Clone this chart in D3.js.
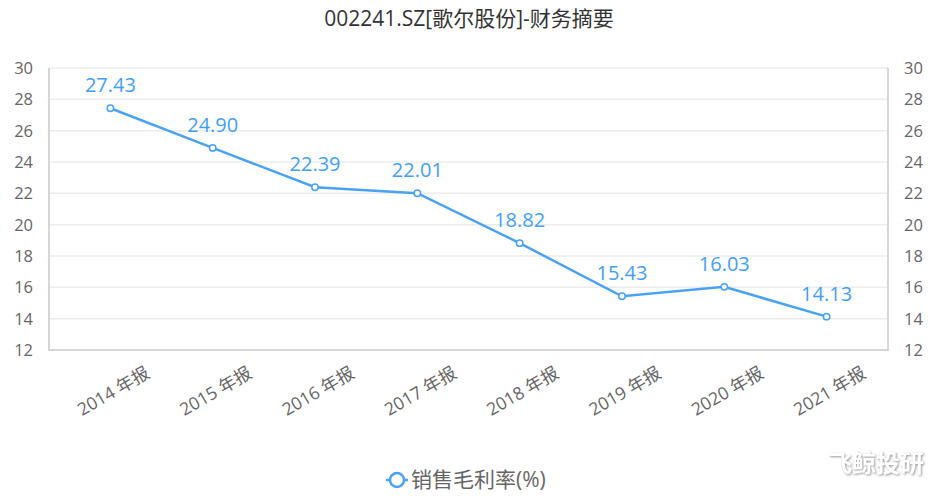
<!DOCTYPE html>
<html lang="zh">
<head>
<meta charset="UTF-8" />
<script src="https://d3js.org/d3.v7.min.js"></script>
<style>
  body { margin: 0; background: #fff; }
  text { font-family: "Open Sans", "Noto Sans CJK SC", sans-serif; }
</style>
</head>
<body>
<svg id="chart" width="941" height="496"></svg>
<script>
const categories = ["2014 年报", "2015 年报", "2016 年报", "2017 年报", "2018 年报", "2019 年报", "2020 年报", "2021 年报"];
const grossMargin = [27.43, 24.90, 22.39, 22.01, 18.82, 15.43, 16.03, 14.13];
const yTicks = [12, 14, 16, 18, 20, 22, 24, 26, 28, 30];

const svg = d3.select("#chart");
const plotLeft = 49, plotRight = 888, plotTop = 68, plotBottom = 350;
const lineColor = "#4aa2f7";

const x = d3.scalePoint().domain(categories).range([plotLeft, plotRight]).padding(0.6);
const y = d3.scaleLinear().domain([12, 30]).range([plotBottom, plotTop]);

// title
svg.append("text")
  .attr("x", 469).attr("y", 26)
  .attr("text-anchor", "middle")
  .attr("font-size", 21).attr("fill", "#333")
  .text("002241.SZ[歌尔股份]-财务摘要");

// grid
svg.append("g").selectAll("line")
  .data(yTicks)
  .join("line")
  .attr("x1", plotLeft).attr("x2", plotRight)
  .attr("y1", d => y(d)).attr("y2", d => y(d))
  .attr("stroke", "#ececec").attr("stroke-width", 1.5);

// frame
svg.append("line").attr("x1", plotLeft).attr("x2", plotLeft).attr("y1", plotTop).attr("y2", plotBottom)
  .attr("stroke", "#d6d6d6").attr("stroke-width", 2);
svg.append("line").attr("x1", plotRight).attr("x2", plotRight).attr("y1", plotTop).attr("y2", plotBottom)
  .attr("stroke", "#d6d6d6").attr("stroke-width", 2);
svg.append("line").attr("x1", plotLeft - 1).attr("x2", plotRight + 1).attr("y1", plotBottom).attr("y2", plotBottom)
  .attr("stroke", "#d6d6d6").attr("stroke-width", 2);

// y labels
svg.append("g").selectAll("text")
  .data(yTicks)
  .join("text")
  .attr("x", 33).attr("y", d => y(d) + 6)
  .attr("text-anchor", "end")
  .attr("font-size", 16.5).attr("fill", "#666")
  .text(d => d);
svg.append("g").selectAll("text")
  .data(yTicks)
  .join("text")
  .attr("x", 904).attr("y", d => y(d) + 6)
  .attr("text-anchor", "start")
  .attr("font-size", 16.5).attr("fill", "#666")
  .text(d => d);

// x labels
svg.append("g").selectAll("text")
  .data(categories)
  .join("text")
  .attr("transform", d => `translate(${x(d) + 3},${391}) rotate(-30)`)
  .attr("text-anchor", "middle")
  .attr("dy", "0.35em")
  .attr("font-size", 17.5).attr("fill", "#666")
  .text(d => d);

// line
const pts = categories.map((c, i) => [x(c), y(grossMargin[i])]);
svg.append("path")
  .attr("d", d3.line()(pts))
  .attr("fill", "none")
  .attr("stroke", lineColor).attr("stroke-width", 2.5);

svg.append("g").selectAll("circle")
  .data(pts)
  .join("circle")
  .attr("cx", d => d[0]).attr("cy", d => d[1]).attr("r", 3.2)
  .attr("fill", "#fff").attr("stroke", lineColor).attr("stroke-width", 1.5);

svg.append("g").selectAll("text")
  .data(grossMargin)
  .join("text")
  .attr("x", (d, i) => pts[i][0])
  .attr("y", (d, i) => pts[i][1] - 16)
  .attr("text-anchor", "middle")
  .attr("font-size", 20).attr("fill", "#42a0fb")
  .text(d => d.toFixed(2));

// legend
const lg = svg.append("g").attr("transform", "translate(397,480)");
lg.append("line").attr("x1", -11).attr("x2", 11).attr("y1", 0).attr("y2", 0)
  .attr("stroke", lineColor).attr("stroke-width", 2.5);
lg.append("circle").attr("r", 7).attr("fill", "#fff")
  .attr("stroke", lineColor).attr("stroke-width", 2.5);
lg.append("text").attr("x", 14).attr("y", 7)
  .attr("font-size", 21).attr("fill", "#666")
  .text("销售毛利率(%)");

// watermark
svg.append("text").attr("x", 924).attr("y", 472)
  .attr("text-anchor", "end")
  .attr("font-size", 24).attr("font-weight", "bold")
  .attr("fill", "#fff")
  .style("filter", "drop-shadow(1px 1px 1px rgba(0,0,0,0.4))")
  .text("飞鲸投研");
</script>
</body>
</html>
